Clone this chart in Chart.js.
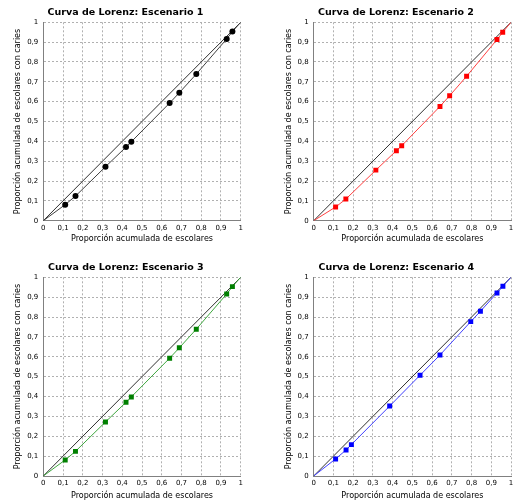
<!DOCTYPE html>
<html><head><meta charset="utf-8">
<script src="https://cdn.jsdelivr.net/npm/chart.js@4/dist/chart.umd.min.js"></script>
<style>
html,body{margin:0;padding:0;background:#fff;}
body{width:513px;height:501px;overflow:hidden;position:relative;}
canvas{position:absolute;}
</style></head><body>
<canvas id="c1"></canvas><canvas id="c2"></canvas><canvas id="c3"></canvas><canvas id="c4"></canvas>
<script>
// ---- data ----
const titles = ['Curva de Lorenz: Escenario 1','Curva de Lorenz: Escenario 2','Curva de Lorenz: Escenario 3','Curva de Lorenz: Escenario 4'];
const xLabel = 'Proporción acumulada de escolares';
const yLabel = 'Proporción acumulada de escolares con caries';
const tickLabels = ['0','0,1','0,2','0,3','0,4','0,5','0,6','0,7','0,8','0,9','1'];
const tickValues = [0,0.1,0.2,0.3,0.4,0.5,0.6,0.7,0.8,0.9,1];
const diagX = [0,1];
const diagY = [0,1];
const x1 = [0,0.111,0.163,0.315,0.419,0.446,0.640,0.689,0.775,0.929,0.958,1];
const y1 = [0,0.081,0.124,0.272,0.371,0.398,0.593,0.645,0.739,0.916,0.953,1];
const x2 = [0,0.111,0.163,0.315,0.419,0.446,0.640,0.689,0.775,0.929,0.958,1];
const y2 = [0,0.069,0.109,0.255,0.353,0.378,0.576,0.630,0.728,0.913,0.950,1];
const x3 = [0,0.111,0.163,0.315,0.419,0.446,0.640,0.689,0.775,0.929,0.958,1];
const y3 = [0,0.081,0.124,0.272,0.371,0.398,0.593,0.645,0.739,0.916,0.953,1];
const x4 = [0,0.111,0.164,0.191,0.385,0.539,0.640,0.796,0.845,0.929,0.959,1];
const y4 = [0,0.086,0.131,0.158,0.352,0.507,0.609,0.777,0.829,0.921,0.955,1];

const FONT = "'DejaVu Sans', sans-serif";

function pts(xs, ys){ return xs.map((x,i)=>({x:x,y:ys[i]})); }

const panels = [
  {id:'c1', xs:x1, ys:y1, title:titles[0], left:0, top:0, w:251, h:250, area:{l:43.3,t:22.3,r:240.7,b:220.7}, tx:125.5, tc:12.7, yt:18.3, xt:239.3,
   line:'#404040', mark:'#000000', style:'circle', r:3},
  {id:'c2', xs:x2, ys:y2, title:titles[1], left:271, top:0, w:250, h:250, area:{l:313.7,t:22.3,r:511,b:220.7}, tx:396, tc:12.7, yt:289.3, xt:239.3,
   line:'#ff4040', mark:'#ff0000', style:'rect', r:3.5},
  {id:'c3', xs:x3, ys:y3, title:titles[2], left:0, top:250, w:251, h:256, area:{l:43.3,t:277.3,r:240.7,b:476}, tx:125.8, tc:267.3, yt:18.3, xt:496,
   line:'#40a840', mark:'#008000', style:'rect', r:3.5},
  {id:'c4', xs:x4, ys:y4, title:titles[3], left:271, top:250, w:250, h:256, area:{l:313.7,t:277.3,r:511,b:476}, tx:396.3, tc:267.3, yt:289.3, xt:496,
   line:'#4040ff', mark:'#0000ff', style:'rect', r:3.5}
];

panels.forEach(p=>{
  const cv = document.getElementById(p.id);
  cv.width = p.w; cv.height = p.h;
  cv.style.left = p.left+'px'; cv.style.top = p.top+'px';
  cv.style.width = p.w+'px'; cv.style.height = p.h+'px';
  const tLH = 12, aLH = 10;
  const tPadTop = p.tc - p.top - tLH/2;
  const tPadBot = p.area.t - p.top - tPadTop - tLH;
  const padRight = p.left + p.w - p.area.r;
  // left padding so that the full-width title is centred where the reference has it
  const padLeft = Math.max(0, 2*(p.tx - p.left) - (p.area.r - p.left));
  const yAxisW = p.area.l - p.left - padLeft;
  const xAxisH = p.top + p.h - p.area.b;
  const yTitlePad = (p.yt - p.left - padLeft) - aLH/2;
  const xTitlePad = Math.max(0, (p.top + p.h - p.xt) - aLH/2);
  const n = p.xs.length;
  const scaleCommon = {
    type:'linear', min:0, max:1,
    afterBuildTicks: s => { s.ticks = tickValues.map(v=>({value:v})); },
    ticks:{ autoSkip:false, maxRotation:0, color:'#000', font:{family:FONT,size:7},
      callback:(v)=>{ const i = tickValues.findIndex(t=>Math.abs(t-v)<1e-9); return i>=0?tickLabels[i]:''; } },
    grid:{ color:'#b0b0b0', lineWidth:1, drawTicks:false },
    border:{ display:true, color:'#808080', width:1, dash:[2,2] }
  };
  new Chart(cv, {
    type:'scatter',
    data:{ datasets:[
      { data: pts(diagX, diagY), showLine:true, borderColor:'#303030', borderWidth:1, pointRadius:0, order:2 },
      { data: pts(p.xs, p.ys), showLine:true, borderColor:p.line, borderWidth:1,
        backgroundColor:p.mark, pointBorderColor:p.mark, pointBorderWidth:0, pointStyle:p.style,
        pointRadius:(ctx)=> (ctx.dataIndex===0||ctx.dataIndex===n-1)?0:p.r, pointHoverRadius:p.r, order:1 }
    ]},
    options:{
      responsive:false, animation:false, devicePixelRatio:1,
      layout:{ padding:{ left:padLeft, top:0, right:padRight, bottom:0 } },
      plugins:{
        legend:{display:false}, tooltip:{enabled:false},
        title:{ display:true, text:p.title, color:'#000', font:{family:FONT, size:9.5, weight:'bold', lineHeight:tLH/9.5},
          padding:{top:tPadTop, bottom:tPadBot} }
      },
      scales:{
        x: Object.assign({}, scaleCommon, {
          position:'bottom',
          ticks:Object.assign({}, scaleCommon.ticks, {padding:3}),
          title:{ display:true, text:xLabel, color:'#000', font:{family:FONT,size:8,lineHeight:aLH/8}, padding:{top:0,bottom:xTitlePad} },
          afterFit: s => { s.height = xAxisH; }
        }),
        y: Object.assign({}, scaleCommon, {
          position:'left',
          ticks:Object.assign({}, scaleCommon.ticks, {padding:5}),
          title:{ display:true, text:yLabel, color:'#000', font:{family:FONT,size:8,lineHeight:aLH/8}, padding:{top:yTitlePad,bottom:0} },
          afterFit: s => { s.width = yAxisW; }
        })
      }
    }
  });
});
</script>
</body></html>
